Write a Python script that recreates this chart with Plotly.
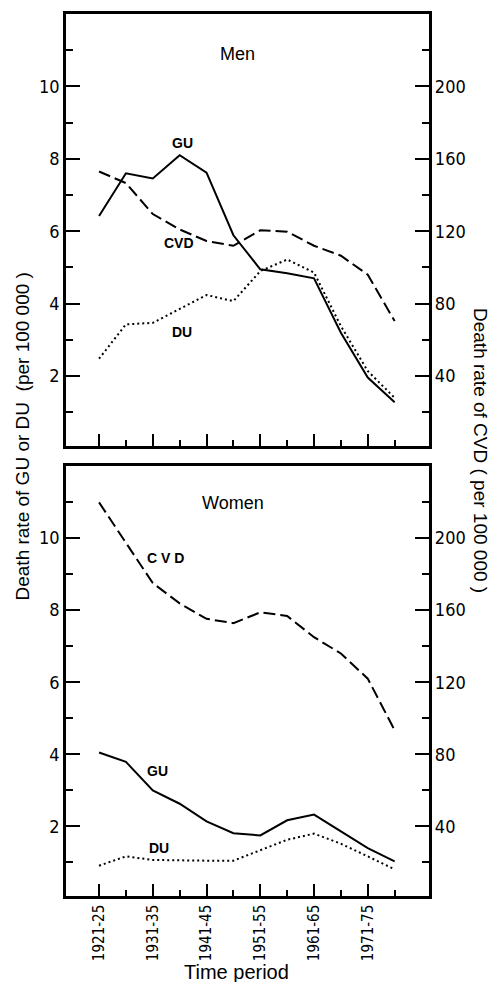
import plotly.graph_objects as go

periods = ["1921-25", "1926-30", "1931-35", "1936-40", "1941-45", "1946-50",
           "1951-55", "1956-60", "1961-65", "1966-70", "1971-75", "1976-80"]

men_gu = [6.42, 7.60, 7.46, 8.10, 7.62, 5.89, 4.95, 4.84, 4.70, 3.20, 1.96, 1.28]
men_du = [2.48, 3.43, 3.47, 3.86, 4.24, 4.07, 4.90, 5.22, 4.86, 3.38, 2.14, 1.40]
men_cvd = [153, 146.6, 129.5, 121, 114.6, 112, 120.5, 119.8, 112, 106.5, 96, 70.4]

women_gu = [4.05, 3.79, 3.00, 2.63, 2.14, 1.81, 1.75, 2.17, 2.33, 1.87, 1.40, 1.03]
women_du = [0.91, 1.17, 1.07, 1.05, 1.05, 1.05, 1.33, 1.63, 1.80, 1.52, 1.17, 0.81]
women_cvd = [219.8, 197.6, 175, 163.8, 155.2, 152.8, 158.8, 156.8, 145, 136, 122, 93.4]

left_ticks = [2, 4, 6, 8, 10]
left_minor = [1, 3, 5, 7, 9, 11]
right_ticks = [40, 80, 120, 160, 200]
right_minor = [20, 60, 100, 140, 180, 220]
x_label_idx = [0, 2, 4, 6, 8, 10]
x_minor_idx = [1, 3, 5, 7, 9, 11]

idx = list(range(len(periods)))

FAM = "DejaVu Sans Condensed, Liberation Sans Narrow, Liberation Sans, Arial, sans-serif"
YTICKFONT = dict(family=FAM, size=18, color="black")
XTICKFONT = dict(family=FAM, size=15, color="black")
LBL = dict(family="Liberation Sans, Arial, sans-serif", size=14, color="black")

fig = go.Figure()

def add(y, axis_x, axis_y, dash):
    fig.add_trace(go.Scatter(x=idx, y=y, mode="lines", xaxis=axis_x, yaxis=axis_y,
                             line=dict(color="black", width=2, dash=dash),
                             showlegend=False, hoverinfo="skip"))

add(men_gu, "x", "y", "solid")
add(men_du, "x", "y", "2px,3px")
add(men_cvd, "x", "y2", "12px,5px")
add(women_gu, "x2", "y3", "solid")
add(women_du, "x2", "y3", "2px,3px")
add(women_cvd, "x2", "y4", "12px,5px")

W, H = 491, 982
xdom = [66 / W, 428.5 / W]
top_dom = [1 - 446 / H, 1 - 14 / H]
bot_dom = [1 - 896 / H, 1 - 466 / H]

xrange = [-1.23, 12.26]
line = dict(showline=True, linecolor="black", linewidth=2.5, mirror=True, zeroline=False,
            showgrid=False, automargin=False)

def xaxis(anchor, labels):
    d = dict(domain=xdom, range=xrange, anchor=anchor, ticks="inside", ticklen=12, tickwidth=2,
             tickcolor="black", tickvals=x_label_idx,
             ticktext=[periods[i] for i in x_label_idx] if labels else [""] * len(x_label_idx),
             showticklabels=labels, tickangle=-90, tickfont=XTICKFONT,
             minor=dict(tickvals=x_minor_idx, ticks="inside", ticklen=6, tickwidth=2, tickcolor="black"),
             **line)
    return d

def yleft(dom, anchor):
    return dict(domain=dom, anchor=anchor, range=[0.07, 12.0], ticks="inside", ticklen=14, tickwidth=2,
                tickcolor="black", tickvals=left_ticks, tickfont=YTICKFONT,
                minor=dict(tickvals=left_minor, ticks="inside", ticklen=7, tickwidth=2, tickcolor="black"),
                **line)

def yright(over, anchor):
    return dict(overlaying=over, anchor=anchor, side="right", range=[1.4, 240.0], ticks="inside",
                ticklen=14, tickwidth=2, tickcolor="black", tickvals=right_ticks, tickfont=YTICKFONT,
                minor=dict(tickvals=right_minor, ticks="inside", ticklen=7, tickwidth=2, tickcolor="black"),
                showline=True, linecolor="black", linewidth=2.5, zeroline=False, showgrid=False,
                automargin=False)

fig.update_layout(
    width=W, height=H, margin=dict(l=0, r=0, t=0, b=0, autoexpand=False),
    paper_bgcolor="white", plot_bgcolor="white",
    xaxis=xaxis("y", False),
    yaxis=yleft(top_dom, "x"),
    yaxis2=yright("y", "x"),
    xaxis2=xaxis("y3", True),
    yaxis3=yleft(bot_dom, "x2"),
    yaxis4=yright("y3", "x2"),
)

ann = []
def lab(text, x, y, xr, yr, size=14, bold=True):
    ann.append(dict(text=("<b>%s</b>" % text) if bold else text, x=x, y=y, xref=xr, yref=yr,
                    xanchor="center", yanchor="middle",
                    showarrow=False, font=dict(LBL, size=size)))

lab("Men", 5.15, 10.89, "x", "y", size=18, bold=False)
lab("GU", 3.11, 8.43, "x", "y")
lab("CVD", 2.97, 5.67, "x", "y")
lab("DU", 3.07, 3.21, "x", "y")
lab("Women", 4.98, 10.98, "x2", "y3", size=18, bold=False)
lab("C V D", 2.48, 9.45, "x2", "y3")
lab("GU", 2.18, 3.54, "x2", "y3")
lab("DU", 2.22, 1.40, "x2", "y3")

TITLEFONT = dict(family="Liberation Sans, Arial, sans-serif", size=19, color="black")
common = dict(xref="paper", yref="paper", showarrow=False, xanchor="center", yanchor="middle")
ann.append(dict(text="Death rate of GU or DU  (per 100 000 )", x=21.5 / W, y=1 - 437 / H,
                textangle=-90, font=TITLEFONT, **common))
ann.append(dict(text="Death rate of CVD ( per 100 000 )", x=481 / W, y=1 - 450 / H,
                textangle=90, font=TITLEFONT, **common))
ann.append(dict(text="Time period", x=236.5 / W, y=1 - 972 / H, font=dict(TITLEFONT, size=20), **common))
fig.update_layout(annotations=ann)

fig.write_html("out.html", config={"displayModeBar": False},
               post_script="document.body.style.margin='0';document.body.style.overflow='hidden';")
